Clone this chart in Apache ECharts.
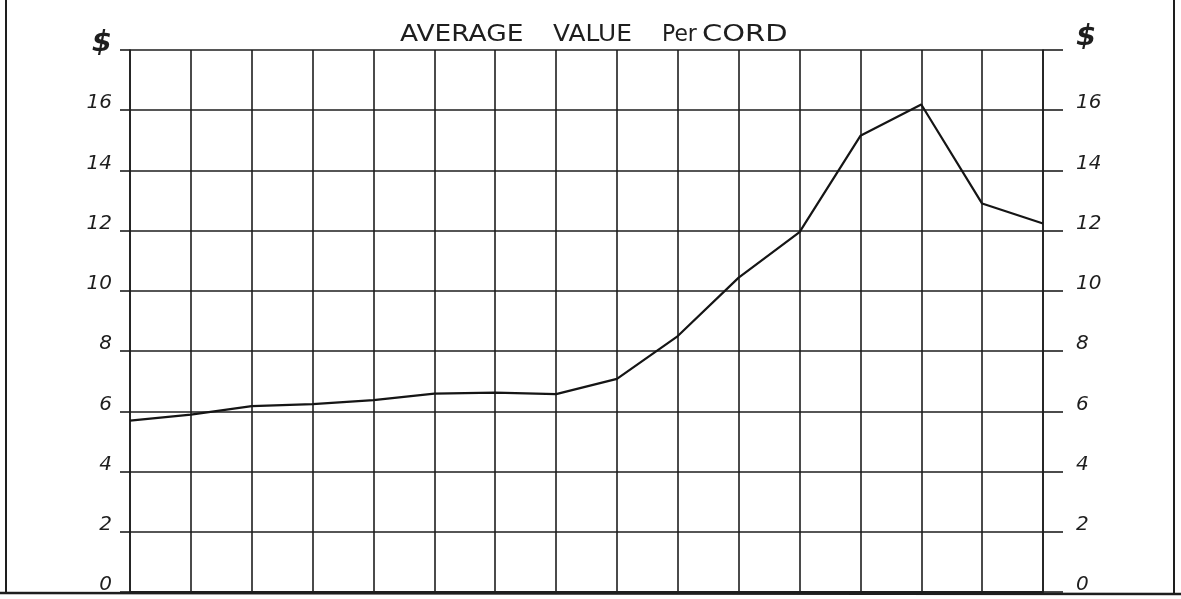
<!DOCTYPE html>
<html>
<head>
<meta charset="utf-8">
<script src="https://cdn.jsdelivr.net/npm/echarts@6/dist/echarts.min.js"></script>
<style>
  html, body { margin: 0; padding: 0; background: #ffffff; }
  #chart { width: 1181px; height: 599px; }
</style>
</head>
<body>
<div id="chart"></div>
<script>
// Periods along the x axis (no labels are printed on the original chart)
const categories = ['1','2','3','4','5','6','7','8','9','10','11','12','13','14','15','16'];
// Average value per cord, dollars
const valuePerCord = [5.69, 5.89, 6.17, 6.24, 6.37, 6.59, 6.62, 6.57, 7.08, 8.5, 10.44, 11.95, 15.15, 16.19, 12.9, 12.24];
// Y axis ticks (top tick is labelled with the dollar sign)
const yTicks = [0, 2, 4, 6, 8, 10, 12, 14, 16, 18];
const topTickLabel = '$';
// Title words, hand lettered across the top
const titleWords = ['AVERAGE', 'VALUE', 'Per', 'CORD'];

const ink = '#1e1e1e';
const labelFont = 'DejaVu Sans';

function tickLabel(v) {
  if (v === yTicks[yTicks.length - 1]) return '{d|' + topTickLabel + '}';
  return String(v);
}

const chart = echarts.init(document.getElementById('chart'), null, { renderer: 'canvas' });

// title word placement (pixel layout, not data)
const wordX = [400, 553, 662, 702];
const wordScale = [1.15, 1.08, 0.95, 1.26];
const titleGraphics = titleWords.map((w, i) => ({
  type: 'text',
  x: wordX[i],
  y: 35,
  scaleX: wordScale[i],
  scaleY: 1,
  style: {
    text: w,
    fontFamily: labelFont,
    fontSize: 23,
    fill: ink,
    verticalAlign: 'middle',
    align: 'left'
  },
  z: 10
}));

function labelStyle(margin, dPad) {
  return {
    margin: margin,
    formatter: tickLabel,
    color: ink,
    fontFamily: labelFont,
    fontStyle: 'italic',
    fontSize: 20,
    verticalAlign: 'middle',
    padding: [0, 0, 14, 0],
    rich: {
      d: { fontFamily: labelFont, fontStyle: 'italic', fontWeight: 'bold', fontSize: 29, color: ink, padding: dPad }
    }
  };
}

chart.setOption({
  backgroundColor: '#ffffff',
  animation: false,
  grid: { left: 130, right: 138, top: 50, bottom: 7, containLabel: false },
  xAxis: {
    type: 'category',
    data: categories,
    boundaryGap: false,
    axisLine: { show: true, lineStyle: { color: ink, width: 2 } },
    axisTick: { show: false },
    axisLabel: { show: false },
    splitLine: { show: true, lineStyle: { color: ink, width: 1.6 } }
  },
  yAxis: [
    {
      type: 'value',
      position: 'left',
      min: yTicks[0],
      max: yTicks[yTicks.length - 1],
      interval: 2,
      axisLine: { show: true, lineStyle: { color: ink, width: 1.6 } },
      axisTick: { show: true, length: 10, lineStyle: { color: ink, width: 1.6 } },
      splitLine: { show: true, lineStyle: { color: ink, width: 1.6 } },
      axisLabel: labelStyle(18, [0, 0, 0, 0])
    },
    {
      type: 'value',
      position: 'right',
      min: yTicks[0],
      max: yTicks[yTicks.length - 1],
      interval: 2,
      axisLine: { show: true, lineStyle: { color: ink, width: 1.6 } },
      axisTick: { show: true, length: 20, lineStyle: { color: ink, width: 1.6 } },
      splitLine: { show: false },
      axisLabel: labelStyle(33, [0, 0, 12, 0])
    }
  ],
  series: [
    {
      type: 'line',
      data: valuePerCord,
      yAxisIndex: 0,
      symbol: 'none',
      smooth: false,
      lineStyle: { color: '#151515', width: 2.2 },
      z: 5
    }
  ],
  graphic: titleGraphics.concat([
    { type: 'line', shape: { x1: 6, y1: 0, x2: 6, y2: 594 }, style: { stroke: ink, lineWidth: 2 } },
    { type: 'line', shape: { x1: 1174, y1: 0, x2: 1174, y2: 594 }, style: { stroke: ink, lineWidth: 2 } },
    { type: 'line', shape: { x1: 0, y1: 593, x2: 1181, y2: 594 }, style: { stroke: ink, lineWidth: 2.5 } }
  ])
});
</script>
</body>
</html>
